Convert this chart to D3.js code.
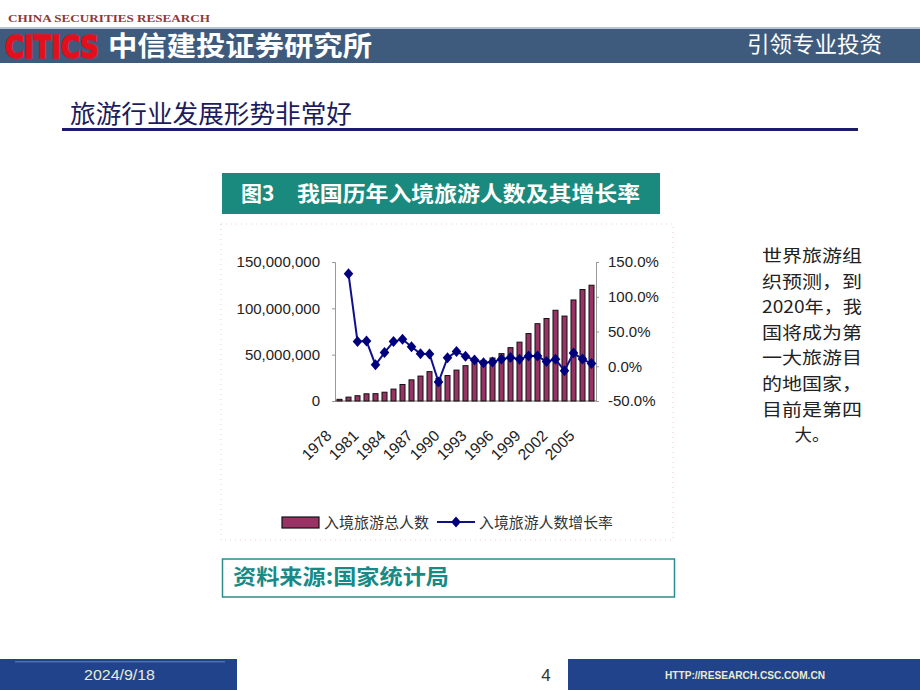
<!DOCTYPE html>
<html><head><meta charset="utf-8">
<script src="https://cdn.jsdelivr.net/npm/d3@7/dist/d3.min.js"></script>
<style>html,body{margin:0;padding:0;background:#fff;}svg{display:block;}</style>
</head><body>
<script>
// ---- data ----
const years = d3.range(1978, 2007).map(String);
const arrivals = [1.81,4.20,5.70,7.77,7.92,9.48,12.85,17.83,22.82,26.90,31.69,24.50,27.46,33.35,38.11,41.53,43.68,46.39,51.13,57.59,63.48,72.80,83.44,89.01,97.91,91.66,109.04,120.29,124.94].map(v=>v*1e6);
const growthYears = years.slice(1);
const growth = [133,35.7,36.3,2.0,19.7,35.5,38.7,28,17.9,17.8,-22.7,12.1,21.4,14.3,9.0,5.2,6.2,10.2,12.6,10.2,14.7,14.6,6.7,10.0,-6.4,19.0,10.3,3.9];
const leftTicks = [0,50e6,100e6,150e6];
const rightTicks = [-50,0,50,100,150];
const xLabelYears = ["1978","1981","1984","1987","1990","1993","1996","1999","2002","2005"];
const seriesNames = ["入境旅游总人数","入境旅游人数增长率"];
const sideText = ["世界旅游组","织预测，到","2020年，我","国将成为第","一大旅游目","的地国家，","目前是第四","大。"];

const W=920,H=690;
const svg=d3.select("body").append("svg").attr("width",W).attr("height",H);
const cjk="'Noto Sans CJK SC','Noto Sans',sans-serif";
const latin="'Liberation Sans',Arial,sans-serif";

// ---- header ----
svg.append("text").attr("x",8).attr("y",22).text("CHINA SECURITIES RESEARCH")
  .attr("font-family","'Liberation Serif',serif").attr("font-weight","bold").attr("font-size",11)
  .attr("fill","#8a3b3b").attr("textLength",202).attr("lengthAdjust","spacingAndGlyphs");
svg.append("rect").attr("x",0).attr("y",27).attr("width",W).attr("height",2).attr("fill","#b8c4d0");
svg.append("rect").attr("x",0).attr("y",29).attr("width",W).attr("height",34).attr("fill","#3e5b7d");
svg.append("text").attr("transform","translate(5,58) scale(1,1.2)").text("CITICS")
  .attr("font-family","'DejaVu Sans',sans-serif").attr("font-weight","bold")
  .attr("font-size",26).attr("fill","#e3101c").attr("stroke","#e3101c").attr("stroke-width",1.4)
  .attr("textLength",94).attr("lengthAdjust","spacingAndGlyphs");
svg.append("text").attr("x",108).attr("y",56).text("中信建投证券研究所")
  .attr("font-family",cjk).attr("font-weight","bold").attr("font-size",27).attr("fill","#fff")
  .attr("textLength",264).attr("lengthAdjust","spacingAndGlyphs");
svg.append("text").attr("x",747).attr("y",52).text("引领专业投资")
  .attr("font-family",cjk).attr("font-size",22).attr("fill","#fff")
  .attr("textLength",135).attr("lengthAdjust","spacingAndGlyphs");

// ---- heading ----
svg.append("text").attr("x",70).attr("y",123).text("旅游行业发展形势非常好")
  .attr("font-family",cjk).attr("font-size",25).attr("fill","#1c1c5c")
  .attr("textLength",282).attr("lengthAdjust","spacingAndGlyphs");
svg.append("rect").attr("x",62).attr("y",128).attr("width",796).attr("height",3).attr("fill","#1c1c6a");

// ---- title box ----
svg.append("rect").attr("x",222).attr("y",173).attr("width",438).attr("height",41).attr("fill","#1b8a7e");
svg.append("text").attr("x",241).attr("y",201).text("图3")
  .attr("font-family",cjk).attr("font-weight","bold").attr("font-size",21).attr("fill","#fff");
svg.append("text").attr("x",297).attr("y",201).text("我国历年入境旅游人数及其增长率")
  .attr("font-family",cjk).attr("font-weight","bold").attr("font-size",21).attr("fill","#fff")
  .attr("textLength",343).attr("lengthAdjust","spacingAndGlyphs");

// ---- dotted chart frame ----
svg.append("rect").attr("x",221).attr("y",224).attr("width",452).attr("height",316)
  .attr("fill","none").attr("stroke","#f2c6e6").attr("stroke-dasharray","1,4");

// ---- chart ----
const x=d3.scaleBand().domain(years).range([335,596]).padding(0);
const yL=d3.scaleLinear().domain([0,150e6]).range([401,262]);
const yR=d3.scaleLinear().domain([-50,150]).range([401,262]);

// axes
const axL=svg.append("g").attr("transform","translate(335,0)")
  .call(d3.axisLeft(yL).tickValues(leftTicks).tickSize(3).tickPadding(12).tickFormat(d3.format(",")));
const axR=svg.append("g").attr("transform","translate(596,0)")
  .call(d3.axisRight(yR).tickValues(rightTicks).tickSize(3).tickPadding(9).tickFormat(d=>d.toFixed(1)+"%"));
[axL,axR].forEach(a=>{
  a.select(".domain").attr("stroke","#999");
  a.selectAll(".tick line").attr("stroke","#999");
  a.selectAll(".tick text").attr("font-family",latin).attr("font-size",15).attr("fill","#222");
});
svg.append("line").attr("x1",335).attr("x2",596).attr("y1",401).attr("y2",401)
  .attr("stroke","#666").attr("stroke-width",1);
// x tick labels
svg.append("g").selectAll("text").data(xLabelYears).join("text")
  .attr("transform",d=>`translate(${x(d)+x.bandwidth()/2-23},445) rotate(-45)`)
  .attr("text-anchor","middle").attr("dominant-baseline","central")
  .attr("font-family",latin).attr("font-size",15.5).attr("fill","#222").text(d=>d);

// bars
svg.append("g").selectAll("rect").data(arrivals).join("rect")
  .attr("x",(d,i)=>x(years[i])+x.bandwidth()/2-2.5).attr("width",5)
  .attr("y",d=>yL(d)).attr("height",d=>401-yL(d))
  .attr("fill","#993366").attr("stroke","#111").attr("stroke-width",1);

// line
const line=d3.line().x((d,i)=>x(growthYears[i])+x.bandwidth()/2).y(d=>yR(d));
svg.append("path").datum(growth).attr("d",line).attr("fill","none")
  .attr("stroke","#10108c").attr("stroke-width",2);
const diamond="M0,-5.5L4.8,0L0,5.5L-4.8,0Z";
svg.append("g").selectAll("path").data(growth).join("path")
  .attr("transform",(d,i)=>`translate(${x(growthYears[i])+x.bandwidth()/2},${yR(d)})`)
  .attr("d",diamond).attr("fill","#00007e");

// legend
svg.append("rect").attr("x",282).attr("y",517).attr("width",37).attr("height",11)
  .attr("fill","#993366").attr("stroke","#111").attr("stroke-width",1.2);
svg.append("text").attr("x",324).attr("y",528).text(seriesNames[0])
  .attr("font-family",cjk).attr("font-size",15).attr("fill","#333")
  .attr("textLength",105).attr("lengthAdjust","spacingAndGlyphs");
svg.append("line").attr("x1",437).attr("x2",475).attr("y1",522).attr("y2",522)
  .attr("stroke","#10108c").attr("stroke-width",2);
svg.append("path").attr("transform","translate(456,522)").attr("d",diamond).attr("fill","#00007e");
svg.append("text").attr("x",479).attr("y",528).text(seriesNames[1])
  .attr("font-family",cjk).attr("font-size",15).attr("fill","#333")
  .attr("textLength",134).attr("lengthAdjust","spacingAndGlyphs");

// source box
svg.append("rect").attr("x",222.5).attr("y",559).attr("width",452).attr("height",38)
  .attr("fill","none").attr("stroke","#2a8c8c").attr("stroke-width",1.5);
svg.append("text").attr("x",233).attr("y",584).text("资料来源:国家统计局")
  .attr("font-family",cjk).attr("font-weight","bold").attr("font-size",21).attr("fill","#178a86")
  .attr("textLength",216).attr("lengthAdjust","spacingAndGlyphs");

// side text
svg.append("g").selectAll("text").data(sideText).join("text")
  .attr("x",812).attr("y",(d,i)=>262+i*25.6).attr("text-anchor","middle")
  .attr("font-family",cjk).attr("font-size",17.5).attr("fill","#222")
  .each(function(d){ if(d.length>=5) d3.select(this).attr("textLength",100).attr("lengthAdjust","spacingAndGlyphs"); })
  .text(d=>d);

// ---- footer ----
svg.append("rect").attr("x",0).attr("y",659).attr("width",237).attr("height",31).attr("fill","#20438b");
svg.append("rect").attr("x",15).attr("y",661).attr("width",210).attr("height",1.5).attr("fill","#4d6fb0");
svg.append("rect").attr("x",568).attr("y",659).attr("width",352).attr("height",31).attr("fill","#20438b");
svg.append("text").attr("x",84).attr("y",680).text("2024/9/18")
  .attr("font-family",latin).attr("font-size",15).attr("fill","#ecebd0")
  .attr("textLength",71).attr("lengthAdjust","spacingAndGlyphs");
svg.append("text").attr("x",546).attr("y",681).attr("text-anchor","middle").text("4")
  .attr("font-family",latin).attr("font-size",17).attr("fill","#333");
svg.append("text").attr("x",665).attr("y",679).text("HTTP://RESEARCH.CSC.COM.CN")
  .attr("font-family",latin).attr("font-weight","bold").attr("font-size",11).attr("fill","#ecebd0")
  .attr("textLength",160).attr("lengthAdjust","spacingAndGlyphs");
</script>
</body></html>
